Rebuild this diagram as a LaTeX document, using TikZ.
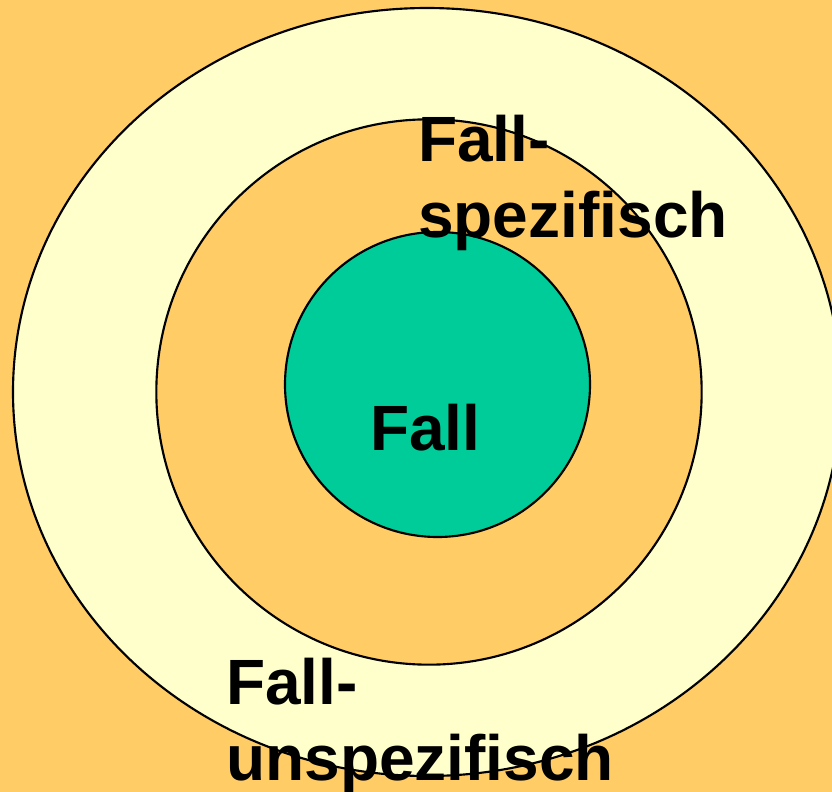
\documentclass[tikz,border=0pt]{standalone}
\usepackage{fontspec}
\setmainfont{Liberation Sans}
\usetikzlibrary{shapes.geometric, positioning}

\definecolor{bgorange}{HTML}{FFCC66}
\definecolor{paleyellow}{HTML}{FFFFCC}
\definecolor{casegreen}{HTML}{00CC99}

\begin{document}
\begin{tikzpicture}[
    x=0.75pt, y=-0.75pt,
    ring/.style={draw=black, line width=1.6pt, inner sep=0pt, outer sep=0pt},
    label/.style={font=\bfseries\fontsize{48}{57}\selectfont, align=left, inner sep=0pt, anchor=base west}
]

    \fill [bgorange, use as bounding box] (0,0) rectangle (832,792);
    \clip (0,0) rectangle (832,792);

    \node (outer) [ring, ellipse, fill=paleyellow, minimum width=621pt, minimum height=576pt] at (427,392) {};
    \node (middle) [ring, circle, fill=bgorange, minimum size=409pt] at (429,392) {};
    \node (inner) [ring, circle, fill=casegreen, minimum size=228.75pt] at (437.5,384.5) {};

    % base = baseline of the last line
    \node (caselabel) [label] at (370,450) {Fall};
    \node (speclabel) [label] at (418,237) {Fall-\\spezifisch};
    \node (unspeclabel) [label] at (226,780) {Fall-\\unspezifisch};

\end{tikzpicture}
\end{document}
